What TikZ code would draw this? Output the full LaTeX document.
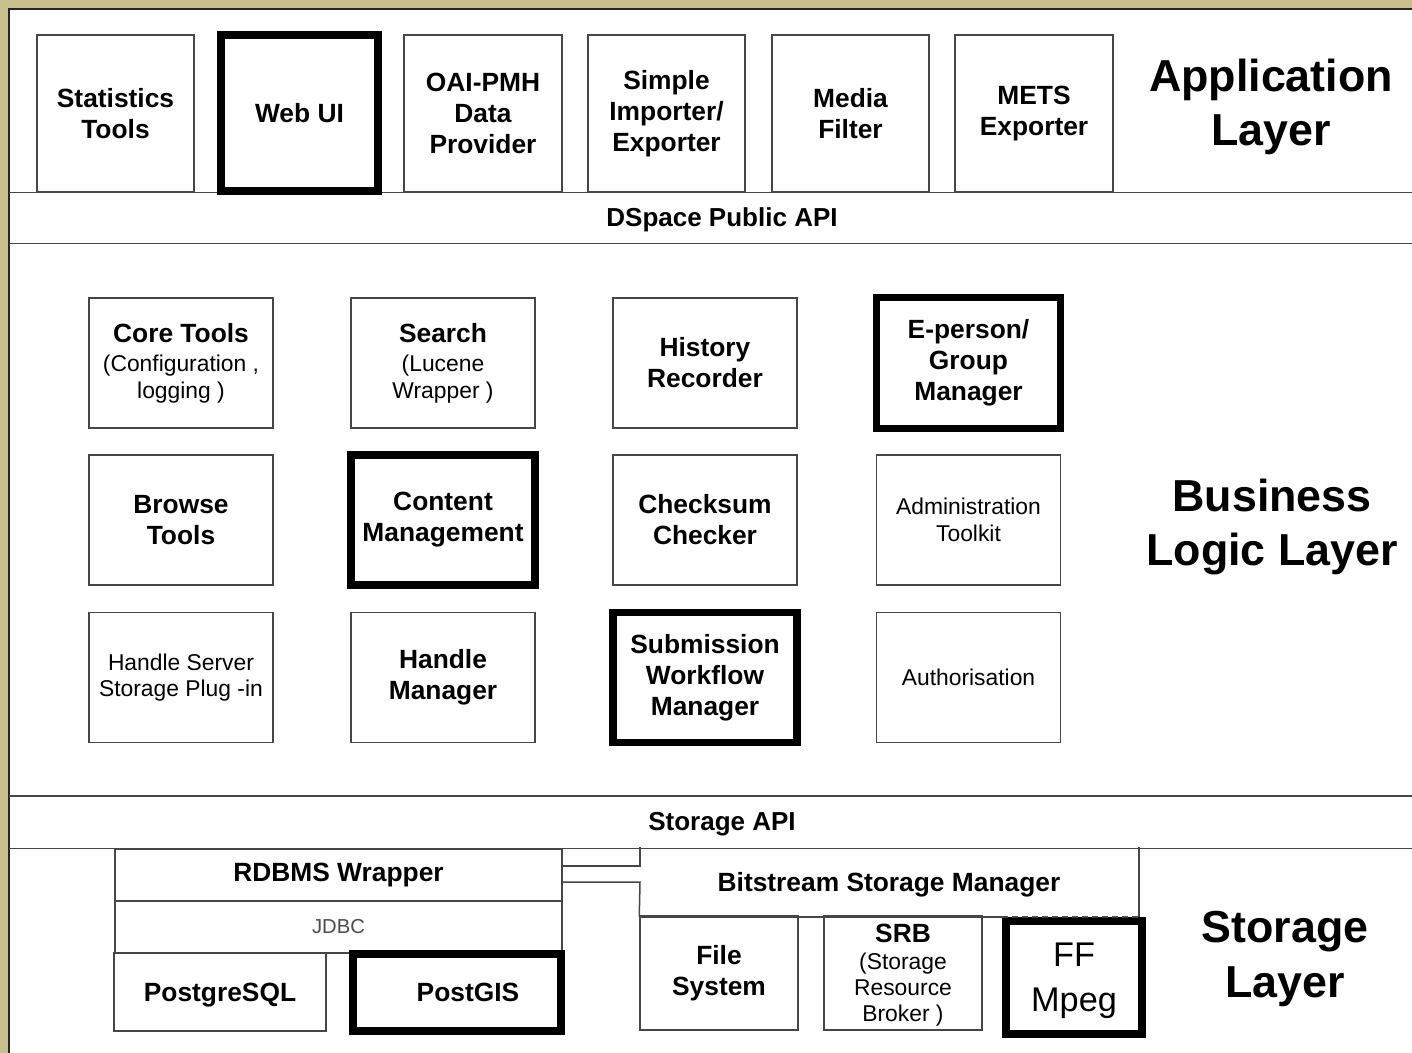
\documentclass[tikz,border=0pt]{standalone}
\usepackage{fontspec}
\setmainfont{Liberation Sans}
\definecolor{frameolive}{RGB}{200,192,140}
\definecolor{linegray}{RGB}{70,70,70}
\newcommand{\headtxt}{\fontsize{15}{17.6}\selectfont\bfseries}
\tikzset{wh/.style 2 args={minimum width=#1*0.02cm, minimum height=#2*0.02cm}}

\begin{document}
\begin{tikzpicture}[x=0.02cm, y=-0.02cm,
  comp/.style={draw=linegray, line width=0.03cm, fill=white, align=center,
    inner sep=0pt, font=\headtxt},
  heavy/.style={comp, draw=black, line width=0.15cm},
  small/.style={font=\fontsize{13}{15}\selectfont\mdseries},
  layer/.style={align=center, font=\fontsize{25.5}{31}\selectfont\bfseries},
  band/.style={linegray, line width=0.03cm},
  wire/.style={linegray, line width=0.03cm}]
  \useasboundingbox (0,0) rectangle (1412,1053);
  % frame and page
  \fill[frameolive] (0,0) rectangle (1412,1053);
  \fill[white] (9,9) rectangle (1412,1053);
  \draw[black!85, line width=0.04cm] (9,1053) -- (9,9) -- (1412,9);
  \foreach \ly in {192.5,243.5,796,848.5}
    \draw[band] (9,\ly) -- (1412,\ly);

  % application layer
  \node[comp, wh={157}{157}] (stats) at (115.5,113.5) {Statistics\\Tools};
  \node[heavy, wh={157}{156}] (webui) at (299.5,113) {Web UI};
  \node[comp, wh={158}{157}] (oai) at (483,113.5) {OAI-PMH\\Data\\Provider};
  \node[comp, wh={157}{157}] (simple) at (666.5,113.5) {Simple\\Importer/\\Exporter};
  \node[comp, wh={157}{157}] (media) at (850.5,113.5) {Media\\Filter};
  \node[comp, wh={158}{157}] (mets) at (1034,113.5) {METS\\Exporter};
  \node[layer] (applabel) at (1271,107) {Application\\Layer};
  \node[font=\fontsize{14.8}{17}\selectfont\bfseries] (pubapi) at (722,220) {DSpace Public API};

  % business logic layer
  \node[comp, small, wh={184}{130}] (core) at (181,363)
    {{\headtxt Core Tools}\\[2pt](Configuration ,\\logging )};
  \node[comp, small, wh={184}{130}] (search) at (443,363)
    {{\headtxt Search}\\[2pt](Lucene\\Wrapper )};
  \node[comp, wh={184}{130}] (history) at (705,363) {History\\Recorder};
  \node[heavy, wh={184}{131}] (eperson) at (968.5,363) {E-person/\\Group\\Manager};
  \node[comp, wh={184}{130}] (browse) at (181,520) {Browse\\Tools};
  \node[heavy, wh={184}{130}] (content) at (443,520) {Content\\Management};
  \node[comp, wh={184}{130}] (checksum) at (705,520) {Checksum\\Checker};
  \node[comp, small, wh={184}{130}] (admin) at (968.5,520) {Administration\\Toolkit};
  \node[comp, small, wh={184}{130}] (hsplug) at (181,677.5) {Handle Server\\Storage Plug -in};
  \node[comp, wh={184}{130}] (handle) at (443,677.5) {Handle\\Manager};
  \node[heavy, wh={184}{130}] (submit) at (705,677.5) {Submission\\Workflow\\Manager};
  \node[comp, small, wh={184}{130}] (auth) at (968.5,677.5) {Authorisation};
  \node[layer] (bizlabel) at (1272,527) {Business\\Logic Layer};
  \node[font=\fontsize{14.8}{17}\selectfont\bfseries] (storapi) at (722,824) {Storage API};

  % storage layer
  \node[comp, wh={447}{52}] (rdbms) at (338.5,875) {RDBMS Wrapper};
  \node[comp, wh={447}{52}, font=\fontsize{11.5}{13}\selectfont, text=black!70] (jdbc) at (338.5,927) {JDBC};
  \node[comp, wh={212}{78}, text depth=0pt] (pgsql) at (220,992) {PostgreSQL};
  \node[heavy, wh={208}{77}] (postgis) at (457,992.5) {\hspace*{0.44cm}PostGIS};
  \node[comp, draw=none, fill=none, wh={498}{68}, text depth=0pt] (bsm) at (889,882) {Bitstream Storage Manager};
  \node[comp, wh={158}{114}] (fs) at (719,973) {File\\System};
  \node[comp, small, wh={158}{114}, text depth=0pt] (srb) at (903,973)
    {{\headtxt SRB}\\(Storage\\Resource\\Broker )};
  \node[heavy, wh={136}{113}, text depth=0pt, font=\fontsize{19.5}{25.5}\selectfont\mdseries] (ffm) at (1074,977.5) {FF\\Mpeg};
  \node[layer] (storlabel) at (1285,959) {Storage\\Layer};

  % links between rdbms wrapper and bitstream manager
  \coordinate (up) at (640,866);
  \coordinate (lo) at (640,882);
  \draw[wire] (rdbms.east |- up) -- (up) -- (up |- bsm.north);
  \draw[wire] (rdbms.east |- lo) -- (lo) -- (bsm.south west);
  \draw[wire] (bsm.north east) -- (bsm.south east);
  \draw[wire] (bsm.south west) -- (bsm.south -| ffm.west);
  \draw[wire, dash pattern=on 0.12cm off 0.08cm] (bsm.south -| ffm.west) -- (bsm.south east);
\end{tikzpicture}
\end{document}
